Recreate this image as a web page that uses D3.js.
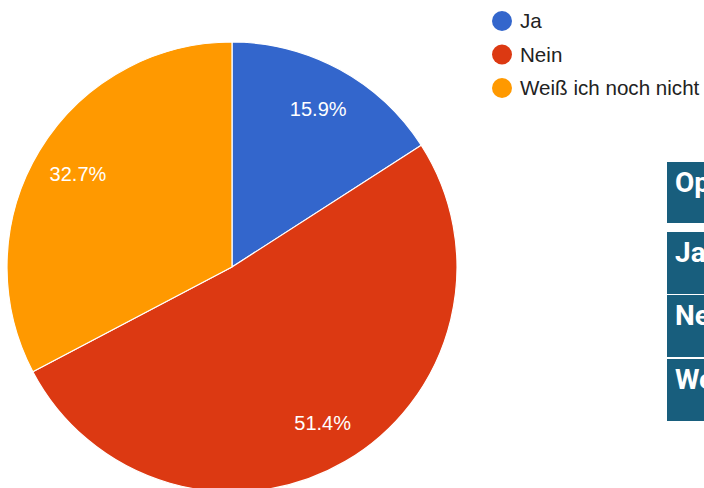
<!DOCTYPE html>
<html>
<head>
<meta charset="utf-8">
<script src="https://cdn.jsdelivr.net/npm/d3@7"></script>
<style>
  body { margin: 0; background: #fff; overflow: hidden; }
</style>
</head>
<body>
<div id="chart"></div>
<script>
const categories = ["Ja", "Nein", "Weiß ich noch nicht"];
const values = [15.9, 51.4, 32.7];
const colors = ["#3366cc", "#dc3912", "#ff9900"];
const tableHeader = "Option";

const width = 704, height = 488;
const cx = 232, cy = 267, radius = 225;

const svg = d3.select("#chart")
  .append("svg")
    .attr("width", width)
    .attr("height", height);

const data = categories.map((c, i) => ({ name: c, value: values[i], color: colors[i] }));

const pie = d3.pie()
  .value(d => d.value)
  .sort(null);

const arc = d3.arc()
  .innerRadius(0)
  .outerRadius(radius);

const labelArc = d3.arc()
  .innerRadius(radius * 0.8)
  .outerRadius(radius * 0.8);

const g = svg.append("g")
  .attr("transform", "translate(" + cx + "," + cy + ")");

const slices = pie(data);

g.selectAll("path")
  .data(slices)
  .enter()
  .append("path")
    .attr("d", arc)
    .style("fill", d => d.data.color)
    .style("stroke", "#fff")
    .style("stroke-width", 1.2);

g.selectAll("text")
  .data(slices)
  .enter()
  .append("text")
    .attr("transform", d => "translate(" + labelArc.centroid(d) + ")")
    .attr("text-anchor", "middle")
    .attr("dy", "0.36em")
    .style("font-family", "Arial, 'Liberation Sans', sans-serif")
    .style("font-size", "20px")
    .style("fill", "#fff")
    .text(d => d.data.value.toFixed(1) + "%");

// legend
const legend = svg.append("g")
  .attr("transform", "translate(502,21)");

const legendY = d3.scalePoint()
  .domain(categories)
  .range([0, 67]);

const item = legend.selectAll("g")
  .data(data)
  .enter()
  .append("g")
    .attr("transform", d => "translate(0," + legendY(d.name) + ")");

item.append("circle")
  .attr("r", 10)
  .style("fill", d => d.color);

item.append("text")
  .attr("x", 18)
  .attr("dy", "0.36em")
  .style("font-family", "Arial, 'Liberation Sans', sans-serif")
  .style("font-size", "20.6px")
  .style("fill", "#222")
  .text(d => d.name);

// table on the right, cut off by the page edge like in the original
const rows = [tableHeader].concat(categories);
const rowTop = [162, 232, 295, 359];

const table = svg.append("g");

const row = table.selectAll("g")
  .data(rows)
  .enter()
  .append("g")
    .attr("transform", (d, i) => "translate(667," + rowTop[i] + ")");

row.append("rect")
  .attr("width", 60)
  .attr("height", (d, i) => i === 0 ? 61 : 62)
  .style("fill", "#185e7d");

row.append("text")
  .attr("x", 8)
  .attr("y", 30)
  .style("font-family", "Roboto, sans-serif")
  .style("font-weight", "bold")
  .style("font-size", "28px")
  .style("fill", "#fff")
  .text(d => d);
</script>
</body>
</html>
